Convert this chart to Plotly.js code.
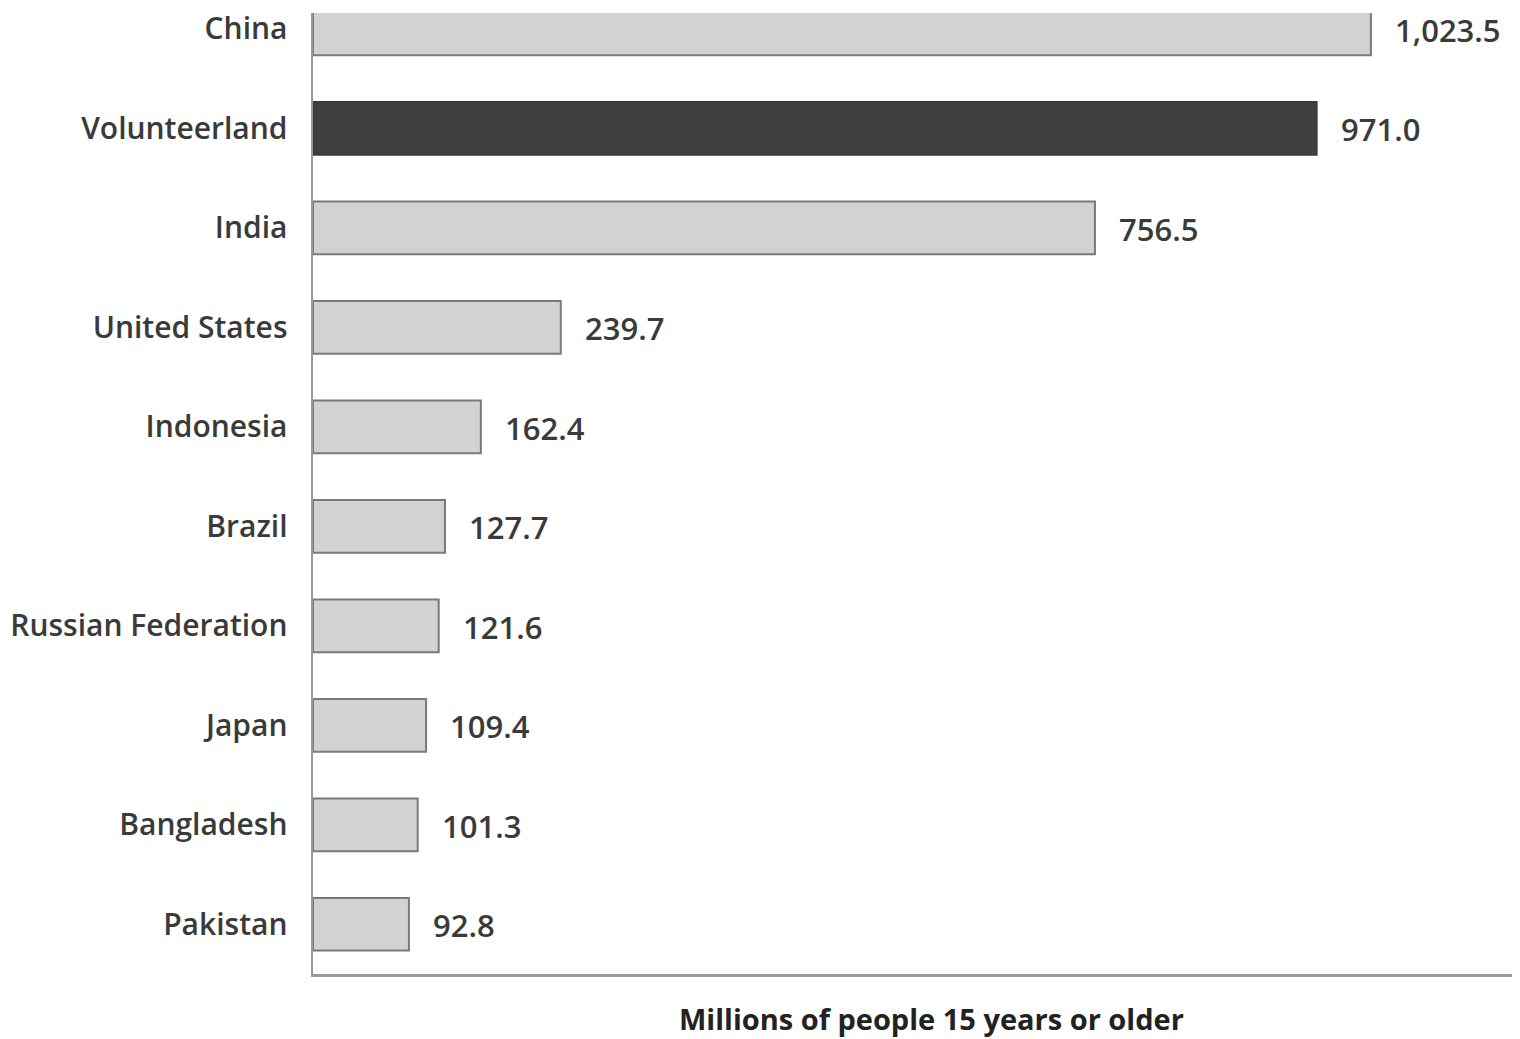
<!DOCTYPE html>
<html>
<head>
<meta charset="utf-8">
<script src="https://cdn.plot.ly/plotly-3.0.1.min.js"></script>
<style>html,body{margin:0;padding:0;background:#fff;}#chart{width:1520px;height:1039px;}</style>
</head>
<body>
<div id="chart"></div>
<script>
const countries = ["China","Volunteerland","India","United States","Indonesia","Brazil","Russian Federation","Japan","Bangladesh","Pakistan"];
const values = [1023.5, 971.0, 756.5, 239.7, 162.4, 127.7, 121.6, 109.4, 101.3, 92.8];
const highlight = "Volunteerland";
const axisTitle = "Millions of people 15 years or older";

const fills = countries.map(c => c === highlight ? "#404040" : "#d2d2d2");
const lines = countries.map(c => c === highlight ? "#3a3a3a" : "#7a7a7a");
const fmt = v => v.toLocaleString("en-US", {minimumFractionDigits: 1, maximumFractionDigits: 1});

const FONT = "Open Sans, sans-serif";
const TXT = "#3a3a3a";

const trace = {
  type: "bar",
  orientation: "h",
  x: values,
  y: countries,
  width: 0.53,
  marker: {color: fills, line: {color: lines, width: 2}},
  hoverinfo: "none"
};

const annotations = countries.map((c, i) => ({
  x: values[i], y: c, xref: "x", yref: "y",
  text: fmt(values[i]), showarrow: false,
  xanchor: "left", xshift: 22, yshift: -1,
  font: {family: FONT, size: 31, color: TXT, weight: 600}
}));
annotations.push({
  x: 0.516, y: 0, xref: "paper", yref: "paper", yanchor: "middle", yshift: -44,
  text: axisTitle, showarrow: false, borderpad: 0,
  font: {family: FONT, size: 29, color: "#222", weight: 700}
});

const layout = {
  width: 1520, height: 1039,
  margin: {l: 313, r: 8, t: 13, b: 65},
  paper_bgcolor: "#fff", plot_bgcolor: "#fff",
  showlegend: false,
  xaxis: {range: [0, 1160], showgrid: false, zeroline: false, showticklabels: false, ticks: "",
          showline: true, linecolor: "#999", linewidth: 2.5},
  yaxis: {type: "category", categoryorder: "array", categoryarray: countries,
          range: [9.5, -0.16], showgrid: false, zeroline: false,
          showline: true, linecolor: "#999", linewidth: 2.5,
          ticks: "outside", ticklen: 17, tickcolor: "rgba(0,0,0,0)",
          tickfont: {family: FONT, size: 30, color: TXT, weight: 600}},
  annotations: annotations
};

Plotly.newPlot("chart", [trace], layout, {displayModeBar: false, staticPlot: true});
</script>
</body>
</html>
